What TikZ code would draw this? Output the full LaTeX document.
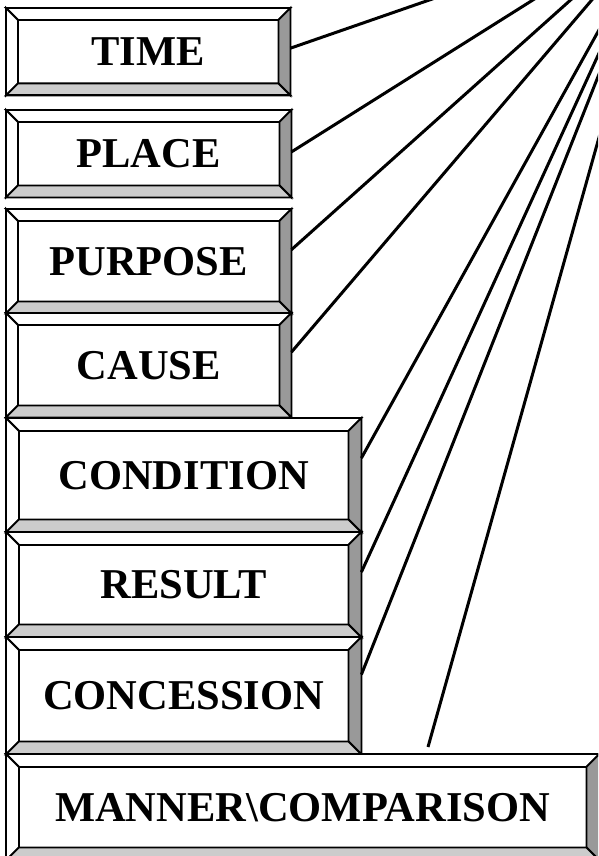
\documentclass[tikz,border=0pt]{standalone}
\usepackage{fontspec}
\setmainfont{Liberation Serif}
\usepackage{xcolor}
\usepackage{tikz}
\usetikzlibrary{calc}
\definecolor{bevdark} {RGB}{153,153,153}
\definecolor{bevlight}{RGB}{204,204,204}
\tikzset{
  bevbox/.style={anchor=north west, inner sep=0pt,
                 minimum width=#1, text=black,
                 font=\fontsize{42.5}{50}\selectfont\bfseries},
  bevbox/.default=285pt,
  edge/.style  ={line width=1.8pt, line join=miter},
  fan/.style   ={line width=3pt},
}

\begin{document}
\begin{tikzpicture}[x=1pt,y=-1pt]
  \useasboundingbox (0,0) rectangle (598,856);
  \clip (0,0) rectangle (598,856);
  % boxes
  \node[bevbox=284pt, minimum height=87pt]  (time)       at (6,8)   {TIME};
  \node[bevbox, minimum height=87pt]        (place)      at (6,110) {PLACE};
  \node[bevbox, minimum height=104pt]       (purpose)    at (6,209) {PURPOSE};
  \node[bevbox, minimum height=104pt]       (cause)      at (6,313) {CAUSE};
  \node[bevbox=355pt, minimum height=114pt] (condition)  at (6,418) {CONDITION};
  \node[bevbox=355pt, minimum height=105pt] (result)     at (6,532) {RESULT};
  \node[bevbox=355pt, minimum height=117pt] (concession) at (6,637) {CONCESSION};
  \node[bevbox=593pt, minimum height=106pt] (manner)     at (6,754) {MANNER\textbackslash COMPARISON};
  % bevels
  \foreach \n/\b in {time/12,place/12,purpose/12,cause/12,condition/13,
                     result/13,concession/13,manner/13}{
    \path (\n.north west) ++(\b,\b)   coordinate (inw)
          (\n.north east) ++(-\b,\b)  coordinate (ine)
          (\n.south east) ++(-\b,-\b) coordinate (ise)
          (\n.south west) ++(\b,-\b)  coordinate (isw);
    \filldraw[edge, fill=white]    (\n.north west)--(\n.north east)--(ine)--(inw)--cycle;
    \filldraw[edge, fill=white]    (\n.north west)--(\n.south west)--(isw)--(inw)--cycle;
    \filldraw[edge, fill=bevdark]  (\n.north east)--(\n.south east)--(ise)--(ine)--cycle;
    \filldraw[edge, fill=bevlight] (\n.south west)--(\n.south east)--(ise)--(isw)--cycle;
    \draw[edge] (\n.north west) rectangle (\n.south east);
  }
  % fan of connectors
  \coordinate (hub) at (660,-80);
  \coordinate (mtip) at ($(manner.north west)+(422,-7)$);
  \foreach \n/\f in {time/0.46,place/0.48,purpose/0.39,cause/0.375,
                     condition/0.35,result/0.38,concession/0.32}
    \draw[fan] (hub)--($(\n.north east)!\f!(\n.south east)$);
  \draw[fan] (hub)--(mtip);
\end{tikzpicture}
\end{document}
